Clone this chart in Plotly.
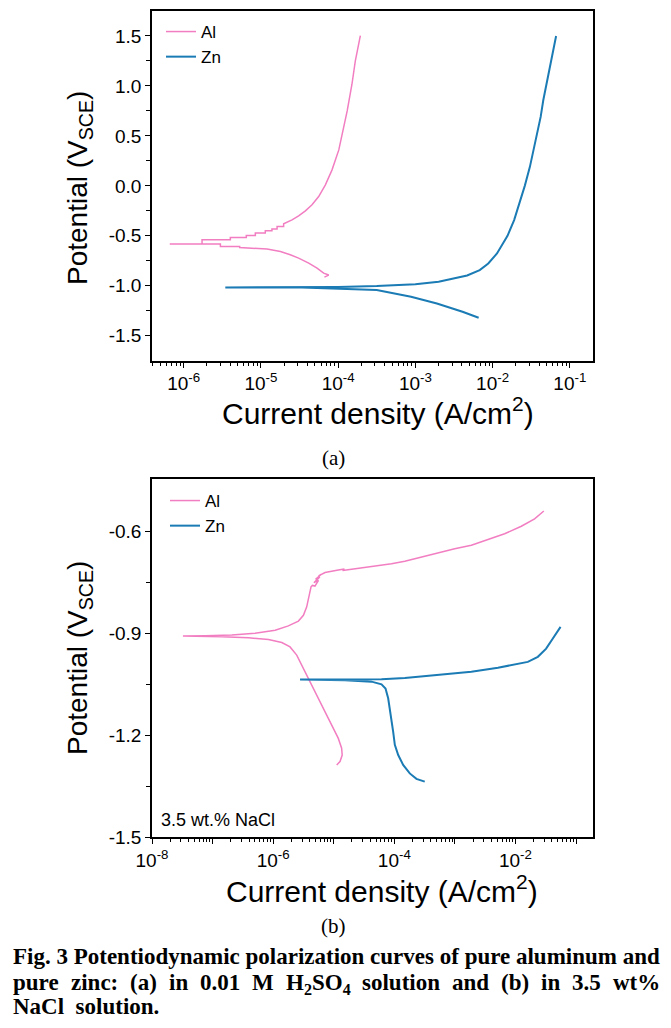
import plotly.graph_objects as go

# ---------------- data ----------------
# (a) 0.01 M H2SO4
al_a_i = [6.64e-5, 7.55e-5, 6.50e-5, 5.33e-5, 4.16e-5, 3.08e-5, 2.40e-5, 1.79e-5, 1.20e-5, 8.91e-6,
          5.31e-6, 5.31e-6, 2.99e-6, 2.99e-6, 6.6e-7,
          1.73e-6, 1.73e-6, 4.02e-6, 4.02e-6, 6.47e-6, 6.47e-6, 8.47e-6, 8.47e-6, 1.14e-5, 1.14e-5,
          1.39e-5, 1.39e-5, 1.62e-5, 1.62e-5, 1.97e-5, 1.97e-5, 2.53e-5, 3.08e-5, 3.77e-5, 4.59e-5,
          5.60e-5, 6.84e-5, 8.34e-5, 1.02e-4, 1.13e-4, 1.31e-4, 1.51e-4, 1.67e-4, 1.94e-4]
al_a_E = [-0.913, -0.893, -0.873, -0.823, -0.773, -0.723, -0.690, -0.657, -0.633, -0.625,
          -0.617, -0.607, -0.607, -0.583, -0.583,
          -0.583, -0.540, -0.540, -0.517, -0.517, -0.497, -0.497, -0.473, -0.473, -0.450,
          -0.450, -0.433, -0.433, -0.407, -0.407, -0.380, -0.340, -0.300, -0.250, -0.190,
          -0.107, 0.010, 0.160, 0.360, 0.517, 0.750, 1.017, 1.250, 1.503]

zn_a_i = [6.6e-3, 4.08e-3, 1.90e-3, 8.79e-4, 3.16e-4, 1.0e-4, 3.39e-5, 3.46e-6,
          3.2e-5, 1.0e-4, 3.16e-4, 1.0e-3, 2.0e-3, 3.16e-3, 4.68e-3, 6.81e-3, 8.79e-3,
          1.14e-2, 1.43e-2, 1.56e-2, 1.90e-2, 2.30e-2, 2.61e-2, 3.04e-2, 3.41e-2, 3.78e-2,
          4.19e-2, 4.53e-2, 4.94e-2, 5.48e-2, 6.00e-2, 6.64e-2]
zn_a_E = [-1.320, -1.260, -1.177, -1.110, -1.043, -1.027, -1.017, -1.017,
          -1.015, -1.012, -1.003, -0.985, -0.960, -0.930, -0.897, -0.843, -0.777,
          -0.677, -0.543, -0.500, -0.343, -0.143, 0.000, 0.190, 0.357, 0.523,
          0.690, 0.857, 1.000, 1.190, 1.357, 1.500]

# (b) 3.5 wt.% NaCl
al_b_i = [1.12e-5, 1.27e-5, 1.38e-5, 1.35e-5, 1.19e-5, 9.23e-6, 7.18e-6, 5.57e-6, 4.33e-6, 3.58e-6,
          2.96e-6, 2.45e-6, 1.90e-6, 1.39e-6, 8.36e-7, 3.92e-7, 1.42e-7, 3.24e-8,
          7.57e-8, 2.08e-7, 5.03e-7, 1.08e-6, 1.78e-6, 2.61e-6, 3.16e-6, 3.58e-6, 3.91e-6, 4.22e-6,
          4.44e-6, 4.9e-6, 5.6e-6, 4.7e-6, 5.9e-6, 5.0e-6, 6.2e-6, 5.6e-6, 7.2e-6, 1.19e-5,
          1.5e-5, 1.4e-5, 2.24e-5, 4.21e-5, 5.0e-5, 4.6e-5, 9.0e-5, 1.49e-4, 2.81e-4, 5.28e-4,
          9.93e-4, 1.87e-3, 2.74e-3, 3.99e-3, 6.62e-3, 1.25e-2, 2.07e-2, 2.94e-2]
al_b_E = [-1.288, -1.278, -1.259, -1.239, -1.210, -1.171, -1.131, -1.092, -1.053, -1.024,
          -0.994, -0.965, -0.941, -0.928, -0.919, -0.914, -0.911, -0.909,
          -0.908, -0.906, -0.901, -0.892, -0.879, -0.865, -0.848, -0.823, -0.789, -0.764,
          -0.760, -0.762, -0.745, -0.752, -0.735, -0.742, -0.728, -0.732, -0.722, -0.715,
          -0.712, -0.716, -0.711, -0.706, -0.703, -0.705, -0.696, -0.689, -0.676, -0.664,
          -0.652, -0.642, -0.632, -0.621, -0.608, -0.586, -0.564, -0.541]

zn_b_i = [3.18e-4, 2.32e-4, 1.80e-4, 1.40e-4, 1.16e-4, 1.02e-4, 9.57e-5, 8.77e-5, 7.92e-5, 7.16e-5,
          6.15e-5, 4.21e-5, 1.53e-5, 2.78e-6,
          1.53e-5, 6.15e-5, 1.49e-4, 5.28e-4, 1.87e-3, 5.14e-3, 9.68e-3, 1.60e-2, 2.34e-2,
          3.21e-2, 4.14e-2, 5.55e-2]
zn_b_E = [-1.337, -1.329, -1.313, -1.288, -1.259, -1.229, -1.190, -1.141, -1.092, -1.063,
          -1.051, -1.043, -1.039, -1.037,
          -1.037, -1.036, -1.032, -1.024, -1.014, -1.002, -0.992, -0.985, -0.970,
          -0.946, -0.916, -0.882]

# tick labels
a_x_tickvals = [1e-6, 1e-5, 1e-4, 1e-3, 1e-2, 1e-1]
a_x_ticktext = ["10<sup>-6</sup>", "10<sup>-5</sup>", "10<sup>-4</sup>", "10<sup>-3</sup>",
                "10<sup>-2</sup>", "10<sup>-1</sup>"]
a_y_tickvals = [-1.5, -1.0, -0.5, 0.0, 0.5, 1.0, 1.5]
a_y_ticktext = ["-1.5", "-1.0", "-0.5", "0.0", "0.5", "1.0", "1.5"]
b_x_tickvals = [1e-8, 1e-7, 1e-6, 1e-5, 1e-4, 1e-3, 1e-2, 1e-1]
b_x_ticktext = ["10<sup>-8</sup>", "", "10<sup>-6</sup>", "", "10<sup>-4</sup>", "",
                "10<sup>-2</sup>", ""]
b_y_tickvals = [-1.5, -1.2, -0.9, -0.6]
b_y_ticktext = ["-1.5", "-1.2", "-0.9", "-0.6"]

# ---------------- styling ----------------
W, H = 671, 1028
AL_COLOR = "#F27EC2"
ZN_COLOR = "#1B7BB4"
SANS = "'Liberation Sans', Arial, sans-serif"
SERIF = "'Liberation Serif', 'Times New Roman', serif"


def px_x(p):
    return p / W


def px_y(p):
    return 1 - p / H


def log_minor(lo, hi):
    vals = []
    for k in range(lo, hi + 1):
        for m in range(2, 10):
            vals.append(m * 10.0 ** k)
    return vals


fig = go.Figure()
fig.add_trace(go.Scatter(x=al_a_i, y=al_a_E, mode="lines", name="Al",
                         line=dict(color=AL_COLOR, width=1.5), xaxis="x", yaxis="y", legend="legend"))
fig.add_trace(go.Scatter(x=zn_a_i, y=zn_a_E, mode="lines", name="Zn",
                         line=dict(color=ZN_COLOR, width=2), xaxis="x", yaxis="y", legend="legend"))
fig.add_trace(go.Scatter(x=al_b_i, y=al_b_E, mode="lines", name="Al",
                         line=dict(color=AL_COLOR, width=1.5), xaxis="x2", yaxis="y2", legend="legend2"))
fig.add_trace(go.Scatter(x=zn_b_i, y=zn_b_E, mode="lines", name="Zn",
                         line=dict(color=ZN_COLOR, width=2), xaxis="x2", yaxis="y2", legend="legend2"))

axis_common = dict(showline=True, linecolor="black", linewidth=1.6, mirror=True,
                   ticks="outside", ticklen=5, tickwidth=1.4, tickcolor="black",
                   showgrid=False, zeroline=False, automargin=False,
                   tickfont=dict(family=SANS, size=19, color="black"))
minor_x = dict(tickmode="array", ticks="outside", ticklen=3, tickwidth=1.2,
               tickcolor="black", showgrid=False)
minor_y = dict(tickmode="array", ticks="outside", ticklen=4, tickwidth=1.2,
               tickcolor="black", showgrid=False)

xdom = [px_x(152), px_x(593)]

fig.update_layout(
    width=W, height=H,
    margin=dict(l=0, r=0, t=0, b=0),
    paper_bgcolor="white", plot_bgcolor="white",
    xaxis=dict(type="log", range=[-6.41, -0.70], domain=xdom, anchor="y",
               tickmode="array", tickvals=a_x_tickvals, ticktext=a_x_ticktext,
               minor=dict(tickvals=log_minor(-7, -1), **minor_x), **axis_common),
    yaxis=dict(range=[-1.75, 1.75], domain=[px_y(360.7), px_y(11)], anchor="x",
               tickmode="array", tickvals=a_y_tickvals, ticktext=a_y_ticktext,
               minor=dict(tickvals=[-1.25, -0.75, -0.25, 0.25, 0.75, 1.25], **minor_y),
               **axis_common),
    xaxis2=dict(type="log", range=[-8, -0.72], domain=xdom, anchor="y2",
                tickmode="array", tickvals=b_x_tickvals, ticktext=b_x_ticktext,
                minor=dict(tickvals=log_minor(-8, -1), **minor_x), **axis_common),
    yaxis2=dict(range=[-1.5, -0.447], domain=[px_y(837), px_y(479)], anchor="x2",
                tickmode="array", tickvals=b_y_tickvals, ticktext=b_y_ticktext,
                minor=dict(tickvals=[-1.35, -1.05, -0.75], **minor_y),
                **axis_common),
    legend=dict(x=px_x(161), y=px_y(14), xanchor="left", yanchor="top",
                bgcolor="rgba(0,0,0,0)", borderwidth=0, tracegroupgap=0,
                font=dict(family=SANS, size=17, color="black")),
    legend2=dict(x=px_x(165), y=px_y(483), xanchor="left", yanchor="top",
                 bgcolor="rgba(0,0,0,0)", borderwidth=0, tracegroupgap=0,
                 font=dict(family=SANS, size=17, color="black")),
    showlegend=True,
)

TITLE_FONT = dict(family=SANS, size=28, color="black")
XTITLE_FONT = dict(family=SANS, size=30, color="black")
annotations = [
    dict(text="Current density (A/cm<sup>2</sup>)", x=px_x(378), y=px_y(411), font=XTITLE_FONT),
    dict(text="Potential (V<sub>SCE</sub>)", x=px_x(79), y=px_y(188), textangle=-90, font=TITLE_FONT),
    dict(text="Current density (A/cm<sup>2</sup>)", x=px_x(382), y=px_y(889), font=XTITLE_FONT),
    dict(text="Potential (V<sub>SCE</sub>)", x=px_x(79), y=px_y(658), textangle=-90, font=TITLE_FONT),
    dict(text="3.5 wt.% NaCl", x=px_x(159), y=px_y(820), xanchor="left",
         font=dict(family=SANS, size=18, color="black")),
    dict(text="(a)", x=px_x(333), y=px_y(458), font=dict(family=SERIF, size=21, color="black")),
    dict(text="(b)", x=px_x(333), y=px_y(926), font=dict(family=SERIF, size=21, color="black")),
]

# ---- figure caption (bold serif, justified) ----
CAP_SIZE = 23
CAP_FONT = dict(family=SERIF, size=CAP_SIZE, color="black")
caption_line1 = "Fig. 3 Potentiodynamic polarization curves of pure aluminum and"
caption_line2 = ["pure", "zinc:", "(a)", "in", "0.01", "M", "H<sub>2</sub>SO<sub>4</sub>", "solution",
                 "and", "(b)", "in", "3.5", "wt%"]
caption_line3 = "NaCl&nbsp; solution."

# approximate bold-serif advance widths (per 1000 em) used only to justify line 2
tw = {" ": 250, "a": 500, "b": 556, "c": 444, "d": 556, "e": 444, "f": 333, "i": 278, "l": 278,
      "m": 833, "n": 556, "o": 500, "p": 556, "r": 444, "s": 389, "t": 333, "u": 556, "w": 722,
      "z": 444, "(": 333, ")": 333, ".": 250, ":": 333, "%": 1000, "M": 944, "H": 778, "S": 556,
      "O": 778}


def word_width(w):
    total = 0.0
    plain = w.replace("<sub>", "\x01").replace("</sub>", "\x02")
    sub = False
    for ch in plain:
        if ch == "\x01":
            sub = True
            continue
        if ch == "\x02":
            sub = False
            continue
        wch = tw.get(ch, 500)
        total += wch * (0.7 if sub else 1.0)
    return total * CAP_SIZE / 1000.0


CAP_TOP = {1: 942, 2: 968, 3: 992}   # top edge (px) of each caption line
left, right = 11, 658
widths = [word_width(w) for w in caption_line2]
gap = (right - left - sum(widths)) / (len(caption_line2) - 1)
xcur = left
for w, wd in zip(caption_line2, widths):
    annotations.append(dict(text="<b>" + w + "</b>", x=px_x(xcur), y=px_y(CAP_TOP[2]),
                            xanchor="left", yanchor="top", font=CAP_FONT))
    xcur += wd + gap

annotations.append(dict(text="<b>" + caption_line1 + "</b>", x=px_x(left), y=px_y(CAP_TOP[1]),
                        xanchor="left", yanchor="top", font=CAP_FONT))
annotations.append(dict(text="<b>" + caption_line3 + "</b>", x=px_x(left), y=px_y(CAP_TOP[3]),
                        xanchor="left", yanchor="top", font=CAP_FONT))

for a in annotations:
    a.setdefault("xref", "paper")
    a.setdefault("yref", "paper")
    a.setdefault("showarrow", False)
    a.setdefault("xanchor", "center")
    a.setdefault("yanchor", "middle")

fig.update_layout(annotations=annotations)

fig.write_html("out.html", config={"displayModeBar": False},
               post_script="document.body.style.margin='0px';document.body.style.overflow='hidden';")
